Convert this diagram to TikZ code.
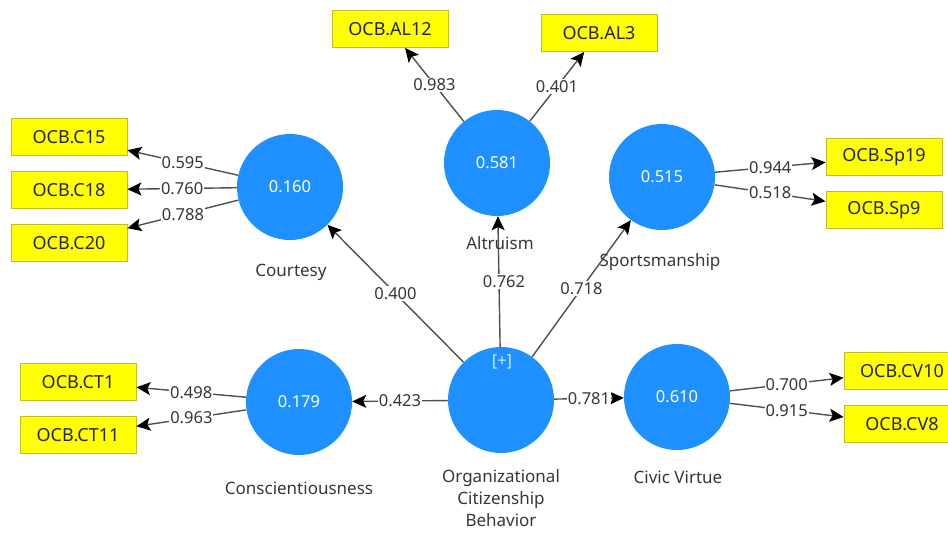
\documentclass[tikz,border=0pt]{standalone}
\usepackage{fontspec}
\setmainfont{Noto Sans}
\usetikzlibrary{arrows.meta}
\definecolor{lvblue}{RGB}{30,144,255}
\definecolor{indyel}{RGB}{255,255,0}
\definecolor{indborder}{RGB}{190,190,40}
\definecolor{txtgray}{RGB}{55,55,55}
\definecolor{linegray}{RGB}{80,80,80}
\begin{document}
\begin{tikzpicture}[x=1pt,y=-1pt,
  every node/.style={font=\fontsize{16.5}{23}\selectfont},
  latent/.style={circle,fill=lvblue,minimum size=106pt,inner sep=0pt,text=white},
  indic/.style={rectangle,fill=indyel,draw=indborder,line width=0.8pt,minimum width=116pt,minimum height=37pt,inner sep=0pt,text=black!85,font=\fontsize{18}{22}\selectfont},
  lvname/.style={text=txtgray,align=center,font=\fontsize{17}{22}\selectfont},
  coef/.style={fill=white,inner sep=1pt,text=txtgray},
  path/.style={draw=linegray,line width=1.4pt,-{Stealth[length=14pt,width=13pt,inset=3pt,black]}}
]
\useasboundingbox (0,0) rectangle (948,533);
\fill[white] (0,0) rectangle (948,533);

% latent variables
\node[latent] (cour) at (290,187) {0.160};
\node[latent] (alt)  at (497,163) {0.581};
\node[latent] (spo)  at (662,177) {0.515};
\node[latent] (con)  at (299,402) {0.179};
\node[latent] (ocb)  at (501,400) {};
\node[latent] (civ)  at (677,397) {0.610};
\node[text=white!80!lvblue] (plus) at (502,362) {[+]};

% indicators
\node[indic] (c15)  at (69,137)  {OCB.C15};
\node[indic] (c18)  at (69,190)  {OCB.C18};
\node[indic] (c20)  at (69,243)  {OCB.C20};
\node[indic] (al12) at (390,29)  {OCB.AL12};
\node[indic] (al3)  at (599,33)  {OCB.AL3};
\node[indic] (sp19) at (884,157) {OCB.Sp19};
\node[indic] (sp9)  at (884,210) {OCB.Sp9};
\node[indic] (ct1)  at (78,382)  {OCB.CT1};
\node[indic] (ct11) at (78,435)  {OCB.CT11};
\node[indic] (cv10) at (902,371) {OCB.CV10};
\node[indic] (cv8)  at (902,424) {OCB.CV8};

% outer loadings
\draw[path] (cour) -- node[coef] {0.595} (c15);
\draw[path] (cour) -- node[coef] {0.760} (c18);
\draw[path] (cour) -- node[coef] {0.788} (c20);
\draw[path] (alt) -- node[coef] {0.983} (al12);
\draw[path] (alt) -- node[coef] {0.401} (al3);
\draw[path] (spo) -- node[coef] {0.944} (sp19);
\draw[path] (spo) -- node[coef] {0.518} (sp9);
\draw[path] (con) -- node[coef] {0.498} (ct1);
\draw[path] (con) -- node[coef] {0.963} (ct11);
\draw[path] (civ) -- node[coef] {0.700} (cv10);
\draw[path] (civ) -- node[coef] {0.915} (cv8);

% structural paths
\draw[path] (ocb) -- node[coef] {0.400} (cour);
\draw[path] (ocb) -- node[coef,xshift=5pt] {0.762} (alt);
\draw[path] (ocb) -- node[coef] {0.718} (spo);
\draw[path] (ocb) -- node[coef] {0.423} (con);
\draw[path] (ocb) -- node[coef] {0.781} (civ);

% latent variable names
\node[lvname] (courL) at (291,272) {Courtesy};
\node[lvname] (altL)  at (500,243) {Altruism};
\node[lvname] (spoL)  at (660,262) {Sportsmanship};
\node[lvname] (conL)  at (299,488) {Conscientiousness};
\node[lvname] (ocbL)  at (501,498) {Organizational\\Citizenship\\Behavior};
\node[lvname] (civL)  at (678,477) {Civic Virtue};
\end{tikzpicture}
\end{document}
